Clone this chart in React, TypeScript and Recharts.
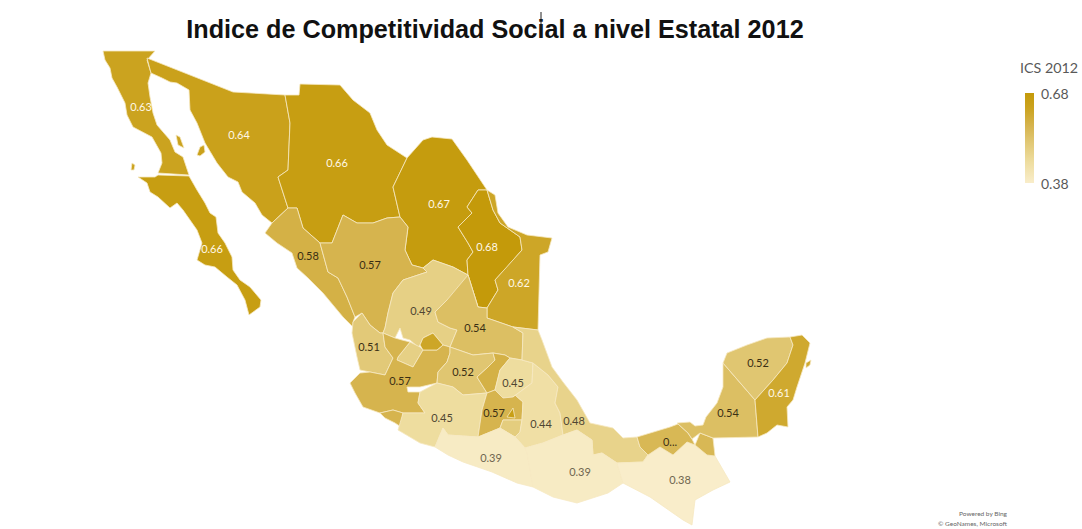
import * as React from "react";
import { ReferenceLine, Scatter, ScatterChart, XAxis, YAxis } from "recharts";

type Pair = [number, number];

const WIDTH = 1082;
const HEIGHT = 529;

const stateNames = [
  "Baja California", "Baja California Sur", "Sonora", "Chihuahua", "Coahuila", "Nuevo León",
  "Tamaulipas", "Sinaloa", "Durango", "Zacatecas", "San Luis Potosí", "Nayarit",
  "Jalisco", "Aguascalientes", "Colima", "Guanajuato", "Querétaro", "Hidalgo",
  "Michoacán", "México", "Ciudad de México", "Morelos", "Tlaxcala", "Puebla",
  "Veracruz", "Guerrero", "Oaxaca", "Chiapas", "Tabasco", "Campeche", "Yucatán", "Quintana Roo",
];

const stateValues = [
  0.63, 0.66, 0.64, 0.66, 0.67, 0.68,
  0.62, 0.58, 0.57, 0.49, 0.54, 0.51,
  0.57, 0.62, 0.57, 0.52, 0.58, 0.45,
  0.45, 0.57, 0.65, 0.5, 0.46, 0.44,
  0.48, 0.39, 0.39, 0.38, 0.56, 0.54, 0.52, 0.61,
];

// outlines on a flat map grid, one or more rings per state
const stateOutlines: Pair[][][] = [
  [
    [[103,51],[155,51],[147,60],[151,73],[148,83],[150,97],[153,113],[157,125],[170,140],[175,152],[183,157],[189,175],[158,173],[162,163],[161,153],[152,137],[133,127],[127,115],[125,103],[117,87],[112,78],[110,68],[105,60]],
    [[176,135],[180,137],[184,148],[178,145]],
    [[132,163],[135,165],[134,170],[131,170]],
  ],
  [
    [[138,177],[155,177],[158,175],[189,176],[197,190],[205,203],[210,213],[216,217],[218,233],[225,243],[232,257],[233,270],[240,280],[250,287],[261,300],[260,307],[249,315],[245,300],[237,285],[227,277],[215,267],[205,265],[197,260],[202,243],[197,230],[183,210],[177,203],[170,208],[158,197],[150,192],[147,183]],
  ],
  [
    [[147,58],[233,92],[285,95],[290,123],[288,170],[278,177],[288,208],[272,223],[262,215],[255,203],[242,192],[238,182],[228,177],[217,163],[205,143],[197,123],[190,110],[189,90],[177,83],[170,82],[162,78],[151,73]],
    [[200,147],[204,145],[205,152],[200,156],[197,155]],
  ],
  [
    [[285,95],[299,95],[300,84],[340,85],[353,100],[370,113],[377,130],[387,145],[407,158],[393,187],[400,217],[387,218],[373,223],[357,223],[343,215],[332,243],[320,243],[303,228],[297,208],[288,208],[278,177],[288,170],[290,123]],
  ],
  [
    [[407,158],[423,140],[432,137],[452,139],[467,160],[477,175],[487,190],[478,190],[467,207],[472,213],[458,227],[468,243],[473,252],[467,260],[468,275],[453,267],[433,260],[423,268],[412,265],[405,250],[408,227],[400,217],[393,187]],
  ],
  [
    [[478,190],[487,190],[493,210],[500,223],[520,237],[522,250],[507,267],[495,280],[498,290],[487,308],[478,307],[468,275],[467,260],[473,252],[468,243],[458,227],[472,213],[467,207]],
  ],
  [
    [[487,190],[495,195],[498,213],[508,227],[527,235],[552,238],[548,252],[540,255],[538,330],[513,327],[487,318],[487,308],[498,290],[495,280],[522,250],[520,237],[500,223],[493,210]],
  ],
  [
    [[265,233],[272,223],[288,208],[297,208],[303,228],[320,243],[328,272],[338,278],[347,297],[355,317],[353,322],[353,327],[343,317],[323,293],[308,278],[297,268],[292,253],[277,243]],
  ],
  [
    [[320,243],[332,243],[343,215],[357,223],[373,223],[387,218],[400,217],[408,227],[405,250],[412,265],[423,268],[427,272],[403,280],[393,293],[388,313],[385,328],[383,333],[380,333],[370,325],[362,313],[355,317],[347,297],[338,278],[328,272]],
  ],
  [
    [[423,268],[433,260],[453,267],[468,275],[478,307],[447,300],[435,312],[438,322],[450,328],[457,330],[450,347],[443,345],[433,333],[423,338],[420,345],[418,347],[410,340],[403,338],[400,328],[395,338],[383,333],[385,328],[388,313],[393,293],[403,280],[427,272]],
    [[410,342],[420,347],[423,350],[413,367],[397,360],[398,357]],
  ],
  [
    [[468,275],[478,307],[487,308],[487,318],[513,327],[523,333],[522,360],[510,358],[505,355],[493,353],[473,355],[450,347],[457,330],[450,328],[438,322],[435,312],[447,300]],
  ],
  [
    [[353,322],[362,313],[370,325],[380,333],[383,333],[385,347],[393,358],[385,375],[370,372],[360,370],[357,357],[352,333]],
  ],
  [
    [[383,333],[395,338],[402,340],[410,342],[398,357],[397,360],[413,367],[423,350],[437,350],[443,345],[450,347],[450,353],[447,362],[438,372],[437,383],[420,387],[407,387],[408,392],[420,392],[418,403],[425,413],[403,413],[393,410],[380,413],[363,407],[355,393],[350,383],[360,373],[370,372],[385,375],[393,358],[385,347]],
  ],
  [
    [[420,345],[423,338],[433,333],[443,345],[437,350],[423,350]],
  ],
  [
    [[380,413],[393,410],[403,413],[401,427],[395,423],[385,418]],
  ],
  [
    [[450,347],[473,355],[493,353],[495,360],[487,368],[477,377],[487,393],[463,395],[453,387],[437,383],[438,372],[447,362],[450,353]],
  ],
  [
    [[505,355],[510,358],[500,370],[495,390],[487,393],[477,377],[487,368],[495,360],[493,353]],
  ],
  [
    [[500,370],[510,358],[522,360],[533,363],[532,383],[513,397],[503,398],[495,390]],
  ],
  [
    [[420,392],[437,383],[453,387],[463,395],[487,393],[482,410],[478,437],[448,435],[443,428],[435,447],[420,443],[398,430],[403,413],[425,413],[418,403]],
  ],
  [
    [[487,393],[495,390],[503,398],[513,397],[515,395],[523,402],[522,420],[503,420],[500,428],[478,437],[482,410]],
  ],
  [
    [[507,417],[513,408],[515,418]],
  ],
  [
    [[503,420],[522,420],[520,432],[515,437],[500,428]],
  ],
  [
    [[527,403],[543,403],[542,410],[530,415]],
  ],
  [
    [[513,397],[532,383],[533,363],[548,375],[558,387],[555,403],[560,413],[563,435],[543,443],[525,448],[515,437],[520,432],[522,420],[523,402],[515,395]],
  ],
  [
    [[513,327],[538,330],[542,340],[552,367],[563,382],[577,400],[590,423],[613,428],[623,438],[637,437],[640,447],[648,455],[643,462],[617,463],[602,453],[593,455],[592,440],[577,430],[563,435],[560,413],[555,403],[558,387],[548,375],[533,363],[522,360],[523,333]],
  ],
  [
    [[435,447],[443,428],[448,435],[478,437],[500,428],[515,437],[525,448],[527,453],[533,487],[517,483],[492,472],[463,462],[448,455]],
  ],
  [
    [[525,448],[543,443],[563,435],[577,430],[592,440],[593,455],[602,453],[617,463],[623,483],[608,493],[577,503],[553,497],[533,487],[527,453]],
  ],
  [
    [[617,463],[643,462],[648,455],[660,447],[673,455],[687,442],[695,445],[707,455],[715,456],[730,482],[713,490],[695,500],[692,525],[683,520],[650,497],[623,483]],
  ],
  [
    [[637,437],[670,427],[678,424],[688,433],[692,439],[695,445],[687,442],[673,455],[660,447],[648,455],[640,447]],
    [[695,445],[700,433],[713,438],[715,456],[707,455]],
  ],
  [
    [[677,423],[690,422],[695,426],[703,425],[706,417],[717,403],[723,387],[723,363],[755,400],[758,437],[713,438],[700,433],[692,439],[688,433]],
  ],
  [
    [[723,363],[727,353],[747,345],[767,338],[790,337],[793,345],[787,363],[773,380],[755,400]],
  ],
  [
    [[790,337],[802,335],[810,343],[805,363],[797,387],[793,400],[787,407],[788,427],[777,425],[767,433],[758,437],[755,400],[773,380],[787,363],[793,345]],
    [[806,363],[811,360],[810,365],[806,368]],
  ],
];

// only these states carry a printed value
const labelTexts = [
  "0.63", "0.66", "0.64", "0.66", "0.67", "0.68", "0.62", "0.58", "0.57", "0.49", "0.54", "0.51", "0.57",
  "0.52", "0.45", "0.45", "0.57", "0.44", "0.48", "0.39", "0.39", "0.38", "0...", "0.54", "0.52", "0.61",
];
const labelValues = [
  0.63, 0.66, 0.64, 0.66, 0.67, 0.68, 0.62, 0.58, 0.57, 0.49, 0.54, 0.51, 0.57,
  0.52, 0.45, 0.45, 0.57, 0.44, 0.48, 0.39, 0.39, 0.38, 0.56, 0.54, 0.52, 0.61,
];
const labelAnchors: Pair[] = [
  [141,106],[212,248],[239,134],[337,162],[439,203],[487,246],[519,282],[308,255],[370,264],[421,310],[475,327],[369,346],[400,380],
  [463,371],[513,382],[442,417],[494,412],[541,423],[574,420],[491,457],[580,471],[680,479],[670,441],[728,412],[758,362],[779,392],
];

const scaleMin = 0.38;
const scaleMax = 0.68;
const scaleStops = [0.38, 0.45, 0.52, 0.57, 0.63, 0.68];
const scaleColors = [
  [249, 237, 202],
  [238, 221, 159],
  [224, 198, 113],
  [214, 180, 78],
  [203, 163, 31],
  [196, 154, 10],
];

const colorFor = (value: number) => {
  let i = 0;
  while (i < scaleStops.length - 2 && value > scaleStops[i + 1]) i++;
  const t = (value - scaleStops[i]) / (scaleStops[i + 1] - scaleStops[i]);
  const mixed = scaleColors[i].map((c, k) => Math.round(c + (scaleColors[i + 1][k] - c) * t));
  return `rgb(${mixed.join(",")})`;
};

const labelColor = (value: number) => {
  if (value >= 0.61) return "#fff8e6";
  if (value <= 0.4) return "#6f6650";
  if (value <= 0.5) return "#4f4632";
  return "#3b2f14";
};

const labelRows = labelTexts.map((text, i) => ({
  x: labelAnchors[i][0],
  y: labelAnchors[i][1],
  text,
  value: labelValues[i],
}));

const ValueLabel = (props: any) => (
  <text
    x={props.cx}
    y={props.cy}
    textAnchor="middle"
    dominantBaseline="central"
    fontFamily="Lato, 'Open Sans', sans-serif"
    fontSize={11}
    fill={labelColor(props.payload.value)}
  >
    {props.payload.text}
  </text>
);

const NoDot = () => null;

const App = () => {
  return (
    <div style={{ position: "absolute", left: 0, top: 0, background: "#fff" }}>
      <ScatterChart width={WIDTH} height={HEIGHT} margin={{ top: 0, right: 0, bottom: 0, left: 0 }}>
        <defs>
          <linearGradient id="icsScale" x1="0" y1="0" x2="0" y2="1">
            {[...scaleStops].reverse().map((stop) => (
              <stop
                key={stop}
                offset={(scaleMax - stop) / (scaleMax - scaleMin)}
                stopColor={colorFor(stop)}
              />
            ))}
          </linearGradient>
        </defs>
        <XAxis hide type="number" dataKey="x" domain={[0, WIDTH]} />
        <YAxis hide type="number" dataKey="y" domain={[0, HEIGHT]} reversed />

        {stateOutlines.flatMap((rings, s) =>
          rings.map((ring, r) => (
            <Scatter
              key={`${stateNames[s]}-${r}`}
              name={stateNames[s]}
              data={[...ring, ring[0]].map(([x, y]) => ({ x, y }))}
              shape={NoDot}
              line={{ fill: colorFor(stateValues[s]), stroke: "#f6e9c2", strokeWidth: 0.8 }}
              isAnimationActive={false}
            />
          ))
        )}

        <Scatter data={labelRows} shape={ValueLabel} isAnimationActive={false} />

        {/* text cursor left over the title */}
        <ReferenceLine
          segment={[{ x: 541, y: 12 }, { x: 541, y: 30 }]}
          stroke="#222"
          strokeWidth={1}
        />

        <text x={495} y={38} textAnchor="middle" fontFamily="'Liberation Sans', Arial, sans-serif" fontWeight="bold" fontSize={25.2} fill="#111">
          Indice de Competitividad Social a nivel Estatal 2012
        </text>

        {/* colour scale */}
        <text x={1049} y={73} textAnchor="middle" fontFamily="Lato, 'Open Sans', sans-serif" fontSize={14.3} fill="#595959">
          ICS 2012
        </text>
        <rect x={1025} y={93} width={9} height={90} fill="url(#icsScale)" />
        <text x={1041} y={99} fontFamily="Lato, 'Open Sans', sans-serif" fontSize={14} fill="#595959">
          {scaleMax.toFixed(2)}
        </text>
        <text x={1041} y={189} fontFamily="Lato, 'Open Sans', sans-serif" fontSize={14} fill="#595959">
          {scaleMin.toFixed(2)}
        </text>

        <text x={1007} y={516} textAnchor="end" fontFamily="Lato, 'Open Sans', sans-serif" fontSize={6.5} fill="#666">
          Powered by Bing
        </text>
        <text x={1007} y={526} textAnchor="end" fontFamily="Lato, 'Open Sans', sans-serif" fontSize={6.5} fill="#666">
          © GeoNames, Microsoft
        </text>
      </ScatterChart>
    </div>
  );
};

export default App;
